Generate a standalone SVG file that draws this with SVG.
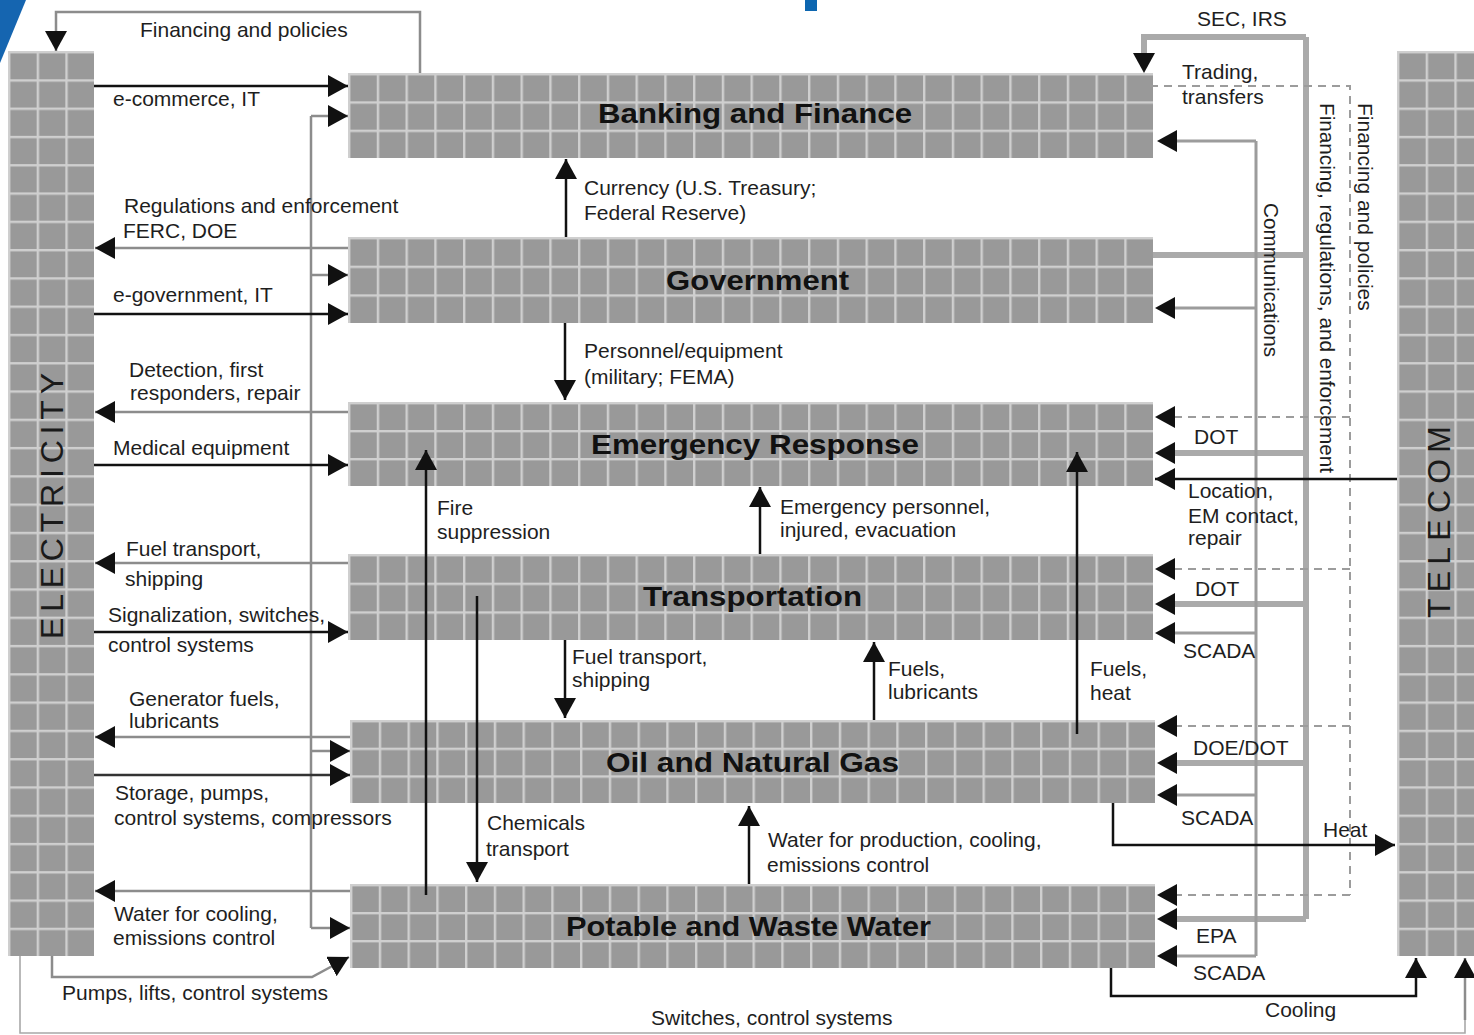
<svg xmlns="http://www.w3.org/2000/svg" width="1474" height="1035" viewBox="0 0 1474 1035">
<style>
.lbl{font-family:"Liberation Sans",Arial,sans-serif;font-size:21px;fill:#1e1e1e}
.ttl{font-family:"Liberation Sans",Arial,sans-serif;font-size:28px;font-weight:bold;fill:#111}
.big{font-family:"Liberation Sans",Arial,sans-serif;font-size:32px;fill:#1a1a1a}
.blk{fill:none;stroke:#111;stroke-width:2.5}
.gry{fill:none;stroke:#8c8c8c;stroke-width:2.5}
.thk{fill:none;stroke:#aaaaaa;stroke-width:6}
.com{fill:none;stroke:#9c9c9c;stroke-width:3}
.dsh{fill:none;stroke:#9c9c9c;stroke-width:2;stroke-dasharray:8 6}
.thin{fill:none;stroke:#a8a8a8;stroke-width:1.6}
.arr{marker-end:url(#ah)}
.arrT{marker-end:url(#ahT)}
</style>
<defs>
<marker id="ah" markerUnits="userSpaceOnUse" markerWidth="22" markerHeight="22" viewBox="0 0 22 22" refX="20" refY="11" orient="auto"><path d="M0,0 L20,11 L0,22 z" fill="#111"/></marker>
<marker id="ahT" markerUnits="userSpaceOnUse" markerWidth="22" markerHeight="22" viewBox="0 0 22 22" refX="12" refY="11" orient="auto"><path d="M0,0 L20,11 L0,22 z" fill="#111"/></marker>
<pattern id="gH" patternUnits="objectBoundingBox" width="0.0357142857" height="0.3333333"><rect x="0" y="0" width="40" height="40" fill="#999999"/><rect x="0" y="0" width="2.4" height="40" fill="#cfcfcf"/><rect x="0" y="0" width="40" height="2.4" fill="#cfcfcf"/></pattern>
<pattern id="gV" patternUnits="objectBoundingBox" width="0.3333333" height="0.03125"><rect x="0" y="0" width="40" height="40" fill="#999999"/><rect x="0" y="0" width="2.4" height="40" fill="#cfcfcf"/><rect x="0" y="0" width="40" height="2.4" fill="#cfcfcf"/></pattern>
</defs>
<rect width="1474" height="1035" fill="#ffffff"/>
<polygon points="0,0 26,0 0,63" fill="#1565b0"/>
<rect x="805" y="0" width="12" height="11" fill="#0d66b0"/>

<g id="electricity"><rect x="8" y="51" width="86" height="905" fill="url(#gV)"/><text class="big" transform="translate(63,639) rotate(-90)" textLength="266" lengthAdjust="spacing">ELECTRICITY</text></g>
<g id="telecom"><rect x="1397" y="51" width="86" height="905" fill="url(#gV)"/><text class="big" transform="translate(1450,618) rotate(-90)" textLength="192" lengthAdjust="spacing">TELECOM</text></g>
<g id="banking"><rect x="348" y="73" width="805" height="85" fill="url(#gH)"/><text class="ttl" x="598" y="123" textLength="314" lengthAdjust="spacingAndGlyphs">Banking and Finance</text></g>
<g id="government"><rect x="348" y="237" width="805" height="86" fill="url(#gH)"/><text class="ttl" x="666" y="290" textLength="183" lengthAdjust="spacingAndGlyphs">Government</text></g>
<g id="emergency"><rect x="348" y="402" width="805" height="84" fill="url(#gH)"/><text class="ttl" x="591" y="454" textLength="328" lengthAdjust="spacingAndGlyphs">Emergency Response</text></g>
<g id="transportation"><rect x="348" y="554" width="805" height="86" fill="url(#gH)"/><text class="ttl" x="643" y="606" textLength="219" lengthAdjust="spacingAndGlyphs">Transportation</text></g>
<g id="oilgas"><rect x="350" y="720" width="805" height="83" fill="url(#gH)"/><text class="ttl" x="606" y="772" textLength="293" lengthAdjust="spacingAndGlyphs">Oil and Natural Gas</text></g>
<g id="water"><rect x="350" y="884" width="805" height="84" fill="url(#gH)"/><text class="ttl" x="566" y="936" textLength="365" lengthAdjust="spacingAndGlyphs">Potable and Waste Water</text></g>

<g id="connectors">
<path class="gry arr" d="M420,73 V12 H56 V51"/>
<path class="blk arr" d="M94,86 H348"/>
<path class="gry" d="M311,116 V928"/>
<path class="gry arr" d="M311,116 H348"/>
<path class="gry arr" d="M311,275 H348"/>
<path class="gry arr" d="M311,751 H350"/>
<path class="gry arr" d="M311,928 H350"/>
<path class="gry arr" d="M348,248 H95"/>
<path class="blk arr" d="M94,314 H348"/>
<path class="gry arr" d="M348,412 H95"/>
<path class="blk arr" d="M94,465 H348"/>
<path class="gry arr" d="M348,563 H95"/>
<path class="blk arr" d="M94,632 H348"/>
<path class="gry arr" d="M350,737 H95"/>
<path class="blk arr" d="M94,775 H350" style="stroke:#333"/>
<path class="gry arr" d="M350,891 H95"/>
<path class="gry arr" d="M52,956 V977 H312 L349,957"/>
<path class="thin" d="M20,956 V1033 H1465 V1020"/>
<path class="gry arr" d="M1465,1020 V958"/>
<path class="blk arr" d="M566,237 V159"/>
<path class="blk arr" d="M565,323 V400"/>
<path class="blk arr" d="M426,895 V450"/>
<path class="blk arr" d="M477,596 V882"/>
<path class="blk arr" d="M760,554 V487"/>
<path class="blk arr" d="M565,640 V718"/>
<path class="blk arr" d="M874,720 V642"/>
<path class="blk arr" d="M1077,734 V452"/>
<path class="blk arr" d="M749,884 V806"/>
<path class="thk" d="M1306,37 V919"/>
<path class="thk arrT" d="M1306,37 H1144 V65"/>
<path class="thk" d="M1153,255 H1306"/>
<path class="thk arrT" d="M1306,453 H1163"/>
<path class="thk arrT" d="M1306,604 H1163"/>
<path class="thk arrT" d="M1306,763 H1165"/>
<path class="thk arrT" d="M1306,919 H1165"/>
<path class="com" d="M1256,141 V956"/>
<path class="com arrT" d="M1256,141 H1165"/>
<path class="com arrT" d="M1256,308 H1163"/>
<path class="com arrT" d="M1256,633 H1163"/>
<path class="com arrT" d="M1256,795 H1165"/>
<path class="com arrT" d="M1256,956 H1165"/>
<path class="dsh" d="M1150,86 H1350 V895"/>
<path class="dsh arr" d="M1350,417 H1155"/>
<path class="dsh arr" d="M1350,569 H1155"/>
<path class="dsh arr" d="M1350,726 H1157"/>
<path class="dsh arr" d="M1350,895 H1157"/>
<path class="blk arr" d="M1397,479 H1155"/>
<path class="blk arr" d="M1113,803 V845 H1395"/>
<path class="blk arr" d="M1111,968 V996 H1416 V958"/>
</g>

<g id="labels">
<text class="lbl" x="140" y="37">Financing and policies</text>
<text class="lbl" x="113" y="106">e-commerce, IT</text>
<text class="lbl" x="124" y="213">Regulations and enforcement</text>
<text class="lbl" x="123" y="238">FERC, DOE</text>
<text class="lbl" x="113" y="302">e-government, IT</text>
<text class="lbl" x="129" y="377">Detection, first</text>
<text class="lbl" x="130" y="400">responders, repair</text>
<text class="lbl" x="113" y="455">Medical equipment</text>
<text class="lbl" x="126" y="556">Fuel transport,</text>
<text class="lbl" x="125" y="586">shipping</text>
<text class="lbl" x="108" y="622">Signalization, switches,</text>
<text class="lbl" x="108" y="652">control systems</text>
<text class="lbl" x="129" y="706">Generator fuels,</text>
<text class="lbl" x="129" y="728">lubricants</text>
<text class="lbl" x="115" y="800">Storage, pumps,</text>
<text class="lbl" x="114" y="825">control systems, compressors</text>
<text class="lbl" x="114" y="921">Water for cooling,</text>
<text class="lbl" x="113" y="945">emissions control</text>
<text class="lbl" x="62" y="1000">Pumps, lifts, control systems</text>
<text class="lbl" x="651" y="1025">Switches, control systems</text>
<text class="lbl" x="584" y="195">Currency (U.S. Treasury;</text>
<text class="lbl" x="584" y="220">Federal Reserve)</text>
<text class="lbl" x="584" y="358">Personnel/equipment</text>
<text class="lbl" x="584" y="384">(military; FEMA)</text>
<text class="lbl" x="437" y="515">Fire</text>
<text class="lbl" x="437" y="539">suppression</text>
<text class="lbl" x="780" y="514">Emergency personnel,</text>
<text class="lbl" x="780" y="537">injured, evacuation</text>
<text class="lbl" x="572" y="664">Fuel transport,</text>
<text class="lbl" x="572" y="687">shipping</text>
<text class="lbl" x="888" y="676">Fuels,</text>
<text class="lbl" x="888" y="699">lubricants</text>
<text class="lbl" x="1090" y="676">Fuels,</text>
<text class="lbl" x="1090" y="700">heat</text>
<text class="lbl" x="487" y="830">Chemicals</text>
<text class="lbl" x="486" y="856">transport</text>
<text class="lbl" x="768" y="847">Water for production, cooling,</text>
<text class="lbl" x="767" y="872">emissions control</text>
<text class="lbl" x="1197" y="26">SEC, IRS</text>
<text class="lbl" x="1182" y="79">Trading,</text>
<text class="lbl" x="1182" y="104">transfers</text>
<text class="lbl" x="1194" y="444">DOT</text>
<text class="lbl" x="1188" y="498">Location,</text>
<text class="lbl" x="1188" y="523">EM contact,</text>
<text class="lbl" x="1188" y="545">repair</text>
<text class="lbl" x="1195" y="596">DOT</text>
<text class="lbl" x="1183" y="658">SCADA</text>
<text class="lbl" x="1193" y="755">DOE/DOT</text>
<text class="lbl" x="1181" y="825">SCADA</text>
<text class="lbl" x="1323" y="837">Heat</text>
<text class="lbl" x="1196" y="943">EPA</text>
<text class="lbl" x="1193" y="980">SCADA</text>
<text class="lbl" x="1265" y="1017">Cooling</text>
<text class="lbl" transform="translate(1264,203) rotate(90)" textLength="154" lengthAdjust="spacingAndGlyphs">Communications</text>
<text class="lbl" transform="translate(1320,103) rotate(90)" textLength="370" lengthAdjust="spacingAndGlyphs">Financing, regulations, and enforcement</text>
<text class="lbl" transform="translate(1358,103) rotate(90)">Financing and policies</text>
</g>
</svg>
